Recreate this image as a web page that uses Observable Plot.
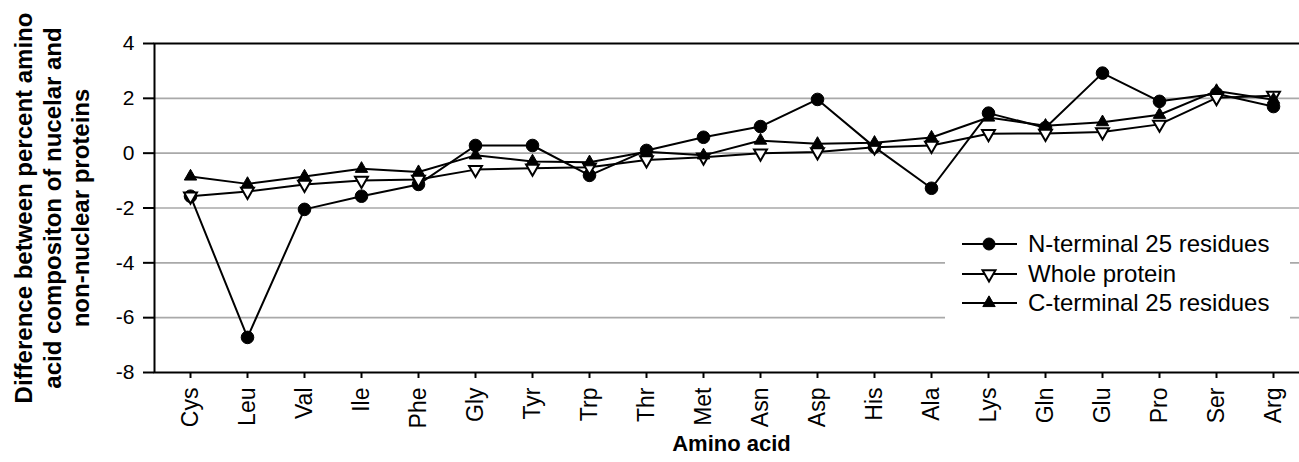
<!DOCTYPE html>
<html><head><meta charset="utf-8">
<script src="https://cdn.jsdelivr.net/npm/d3@7"></script>
<script src="https://cdn.jsdelivr.net/npm/@observablehq/plot@0.6"></script>
<style>
body{margin:0;background:#fff;}
#wrap{position:relative;width:1299px;height:462px;overflow:hidden;font-family:"Liberation Sans",Arial,sans-serif;background:#fff;}
#legend{position:absolute;left:945px;top:225px;}
</style></head><body><div id="wrap"></div>
<script>
const aminoAcids = ["Cys","Leu","Val","Ile","Phe","Gly","Tyr","Trp","Thr","Met","Asn","Asp","His","Ala","Lys","Gln","Glu","Pro","Ser","Arg"];
const nTerminal = [-1.57,-6.72,-2.05,-1.57,-1.14,0.28,0.28,-0.81,0.10,0.58,0.97,1.96,0.22,-1.28,1.46,0.93,2.92,1.89,2.17,1.70];
const wholeProtein = [-1.57,-1.40,-1.14,-1.00,-0.96,-0.60,-0.55,-0.51,-0.25,-0.15,0.00,0.04,0.22,0.28,0.71,0.72,0.77,1.05,2.02,2.10];
const cTerminal = [-0.85,-1.12,-0.85,-0.57,-0.69,-0.08,-0.30,-0.33,0.05,-0.08,0.46,0.34,0.38,0.57,1.30,1.00,1.13,1.40,2.27,1.95];
const seriesNames = ["N-terminal 25 residues","Whole protein","C-terminal 25 residues"];
const yTicks = [-8,-6,-4,-2,0,2,4];
const gridValues = [-6,-4,-2,0,2];
const yTitle = "Difference between percent amino\nacid compositon of nucelar and\nnon-nuclear proteins";
const xTitle = "Amino acid";

const toRows = (name, values) => aminoAcids.map((a, i) => ({aa: a, value: values[i], series: name}));
const nData = toRows(seriesNames[0], nTerminal);
const wData = toRows(seriesNames[1], wholeProtein);
const cData = toRows(seriesNames[2], cTerminal);
const font = "'Liberation Sans', Arial, sans-serif";

const chart = Plot.plot({
  width: 1299, height: 462,
  marginTop: 43, marginBottom: 90, marginLeft: 154, marginRight: -9,
  style: {fontFamily: font, fontSize: "20px", color: "#000", background: "transparent", overflow: "visible"},
  x: {type: "point", domain: aminoAcids, padding: 0.5, label: null},
  y: {domain: [-8, 4], label: null},
  marks: [
    Plot.ruleY(gridValues, {stroke: "#a9a9a9", strokeWidth: 1.6}),
    Plot.frame({stroke: "#000", strokeWidth: 2}),
    Plot.axisY(yTicks, {tickSize: 11, tickPadding: 9, strokeWidth: 2, fontSize: 21, label: null, tickFormat: d => String(d)}),
    Plot.axisX(aminoAcids, {tickSize: 6, tickPadding: 9, tickRotate: -90, strokeWidth: 2, fontSize: 23, label: null}),
    Plot.line(nData, {x: "aa", y: "value", stroke: "#000", strokeWidth: 2}),
    Plot.dot(nData, {x: "aa", y: "value", r: 6.3, fill: "#000", stroke: "#000", strokeWidth: 1}),
    Plot.line(wData, {x: "aa", y: "value", stroke: "#000", strokeWidth: 2}),
    Plot.dot(wData, {x: "aa", y: "value", symbol: "triangle", rotate: 180, r: 4.8, fill: "#fff", stroke: "#000", strokeWidth: 2}),
    Plot.line(cData, {x: "aa", y: "value", stroke: "#000", strokeWidth: 2}),
    Plot.dot(cData, {x: "aa", y: "value", symbol: "triangle", r: 4.6, fill: "#000", stroke: "#000", strokeWidth: 1}),
    Plot.text([yTitle], {frameAnchor: "left", textAnchor: "middle", dx: -103, rotate: -90, fontSize: 24, fontWeight: "bold", lineHeight: 1.17}),
    Plot.text([xTitle], {frameAnchor: "bottom", dy: 78, fontSize: 22, fontWeight: "bold"})
  ]
});
const wrap = document.getElementById("wrap");
wrap.appendChild(chart);

// legend overlay
const lw = 345, lh = 97;
const leg = d3.create("svg").attr("id", "legend").attr("width", lw).attr("height", lh)
  .style("font-family", font);
leg.append("rect").attr("width", lw).attr("height", lh).attr("fill", "#fff");
const rowY = [19, 49, 78];
const sym = [
  {type: d3.symbolCircle, r: 6, fill: "#000", rot: 0, sw: 1},
  {type: d3.symbolTriangle, r: 4.8, fill: "#fff", rot: 180, sw: 2},
  {type: d3.symbolTriangle, r: 4.6, fill: "#000", rot: 0, sw: 1}
];
seriesNames.forEach((name, i) => {
  const g = leg.append("g").attr("transform", `translate(0,${rowY[i]})`);
  g.append("line").attr("x1", 17).attr("x2", 72).attr("stroke", "#000").attr("stroke-width", 2);
  g.append("path").attr("d", d3.symbol(sym[i].type, Math.PI * sym[i].r * sym[i].r)())
    .attr("transform", `translate(44,0) rotate(${sym[i].rot})`)
    .attr("fill", sym[i].fill).attr("stroke", "#000").attr("stroke-width", sym[i].sw);
  g.append("text").attr("x", 83).attr("dy", "0.35em").attr("font-size", 24).text(name);
});
wrap.appendChild(leg.node());
</script>
</body></html>
